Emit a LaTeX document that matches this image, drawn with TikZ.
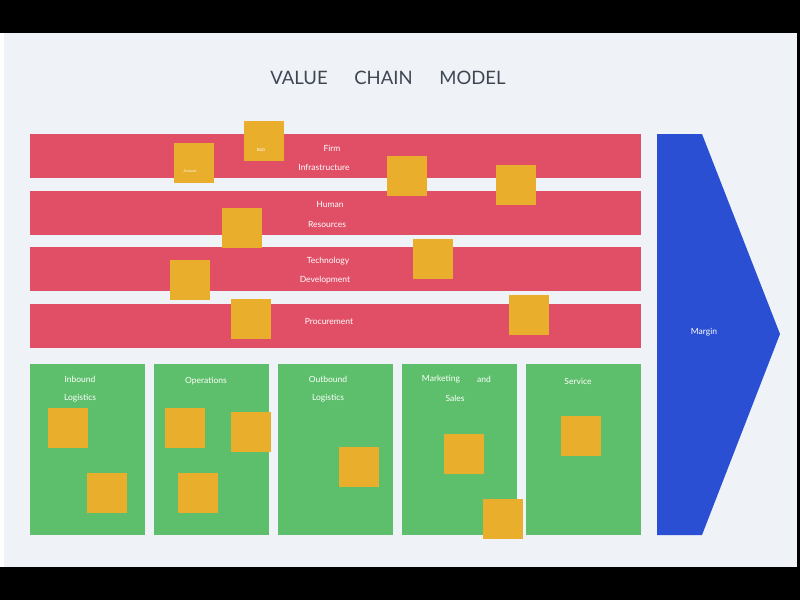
\documentclass[tikz,border=0pt]{standalone}
\usepackage{fontspec}
\setmainfont{Lato}
\definecolor{bgc}{HTML}{EFF3F8}
\definecolor{redc}{HTML}{E04F66}
\definecolor{grnc}{HTML}{5DBF6B}
\definecolor{orgc}{HTML}{E8AE2C}
\definecolor{bluc}{HTML}{2A4FD2}
\definecolor{titc}{HTML}{3E4652}
\tikzset{
  redbar/.style={fill=redc, draw=none},
  grnbox/.style={fill=grnc, draw=none},
  sticky/.style={fill=orgc, draw=none, minimum width=40pt, minimum height=40pt, inner sep=0pt, anchor=north west, text=white, font=\fontsize{4}{5}\selectfont},
  lbl/.style={text=white, font=\fontsize{8.5}{10}\selectfont, inner sep=0pt},
}
\begin{document}
\begin{tikzpicture}[x=1pt,y=-1pt]
\useasboundingbox (0,0) rectangle (800,600);
\fill[black] (0,0) rectangle (800,600);
\fill[white] (0,33) rectangle (4,567);
\fill[bgc] (4,33) rectangle (797,567);
\node[text=titc, font=\fontsize{18.5}{22}\selectfont] (t1) at (299,78) {VALUE};
\node[text=titc, font=\fontsize{18.5}{22}\selectfont] (t2) at (383.5,78) {CHAIN};
\node[text=titc, font=\fontsize{18.5}{22}\selectfont] (t3) at (472.5,78) {MODEL};
% red bars
\fill[redbar] (30,134) rectangle (641,178);
\fill[redbar] (30,191) rectangle (641,235);
\fill[redbar] (30,247) rectangle (641,291);
\fill[redbar] (30,304) rectangle (641,348);
% green boxes
\fill[grnbox] (30,364) rectangle (145,535);
\fill[grnbox] (154,364) rectangle (269,535);
\fill[grnbox] (278,364) rectangle (393,535);
\fill[grnbox] (402,364) rectangle (517,535);
\fill[grnbox] (526,364) rectangle (641,535);
% margin arrow
\fill[bluc] (657,134) -- (702,134) -- (780,334) -- (702,535) -- (657,535) -- cycle;
\node[lbl] (margin) at (704,332) {Margin};
% labels
\node[lbl] (l1) at (332,148) {Firm};
\node[lbl] (l2) at (324,167) {Infrastructure};
\node[lbl] (l3) at (330,204.5) {Human};
\node[lbl] (l4) at (327,224) {Resources};
\node[lbl] (l5) at (328,261) {Technology};
\node[lbl] (l6) at (325,280) {Development};
\node[lbl] (l7) at (329,321) {Procurement};
\node[lbl] (g1) at (80,379) {Inbound};
\node[lbl] (g2) at (80,398) {Logistics};
\node[lbl] (g3) at (206,381) {Operations};
\node[lbl] (g4) at (328,379) {Outbound};
\node[lbl] (g5) at (328,398) {Logistics};
\node[lbl] (g6) at (441,379) {Marketing};
\node[lbl] (g7) at (484,379) {and};
\node[lbl] (g8) at (455,398) {Sales};
\node[lbl] (g9) at (578,381) {Service};
% sticky notes
\node[sticky] (s1) at (174,143) {};
\node[text=white, font=\fontsize{3.5}{4}\selectfont, inner sep=0pt] (s1t) at (190,171) {Account};
\node[sticky] (s2) at (244,121) {};
\node[text=white, font=\fontsize{4}{5}\selectfont, inner sep=0pt] (s2t) at (261,150) {R\&D};
\node[sticky] (s3) at (387,156) {};
\node[sticky] (s4) at (496,165) {};
\node[sticky] (s5) at (222,208) {};
\node[sticky] (s6) at (413,239) {};
\node[sticky] (s7) at (170,260) {};
\node[sticky] (s8) at (231,299) {};
\node[sticky] (s9) at (509,295) {};
\node[sticky] (s10) at (48,408) {};
\node[sticky] (s11) at (87,473) {};
\node[sticky] (s12) at (165,408) {};
\node[sticky] (s13) at (231,412) {};
\node[sticky] (s14) at (178,473) {};
\node[sticky] (s15) at (339,447) {};
\node[sticky] (s16) at (444,434) {};
\node[sticky] (s17) at (483,499) {};
\node[sticky] (s18) at (561,416) {};
\end{tikzpicture}
\end{document}
